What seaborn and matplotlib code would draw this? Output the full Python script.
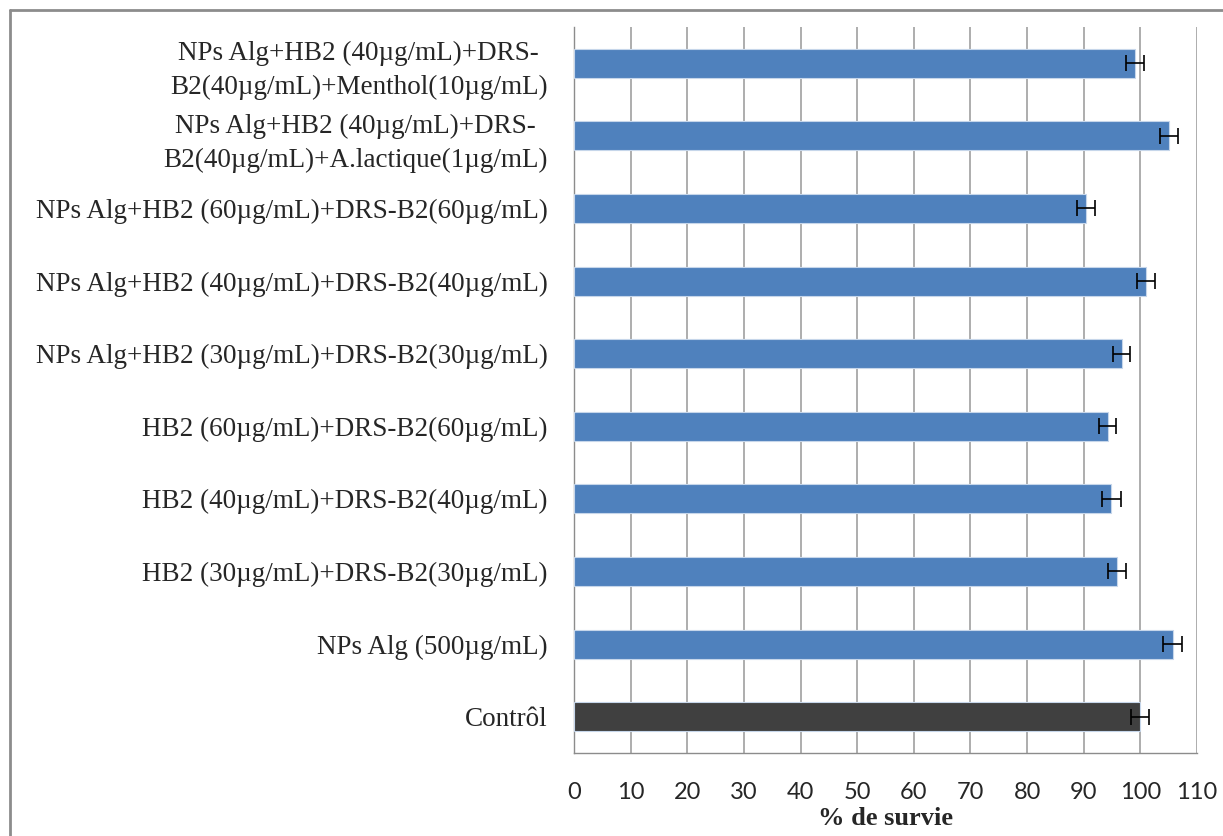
import numpy as np
import pandas as pd
import matplotlib
matplotlib.use("Agg")
import matplotlib.pyplot as plt
import seaborn as sns

# categories from top to bottom, as in the chart
categories = [
    "NPs Alg+HB2 (40µg/mL)+DRS-\nB2(40µg/mL)+Menthol(10µg/mL)",
    "NPs Alg+HB2 (40µg/mL)+DRS-\nB2(40µg/mL)+A.lactique(1µg/mL)",
    "NPs Alg+HB2 (60µg/mL)+DRS-B2(60µg/mL)",
    "NPs Alg+HB2 (40µg/mL)+DRS-B2(40µg/mL)",
    "NPs Alg+HB2 (30µg/mL)+DRS-B2(30µg/mL)",
    "HB2 (60µg/mL)+DRS-B2(60µg/mL)",
    "HB2 (40µg/mL)+DRS-B2(40µg/mL)",
    "HB2 (30µg/mL)+DRS-B2(30µg/mL)",
    "NPs Alg (500µg/mL)",
    "Contrôl",
]
survival = [99.0, 105.0, 90.4, 101.0, 96.7, 94.2, 94.9, 95.8, 105.7, 100.0]
errors = [1.6, 1.6, 1.6, 1.6, 1.5, 1.5, 1.6, 1.6, 1.7, 1.6]
x_ticks = [0, 10, 20, 30, 40, 50, 60, 70, 80, 90, 100, 110]

df = pd.DataFrame({"cond": categories, "survie": survival, "err": errors})
colors = {c: "#4F81BD" for c in categories}
colors["Contrôl"] = "#404040"

sns.set_style("white")

fig = plt.figure(figsize=(12.23, 8.36), dpi=100)
ax = fig.add_axes([574 / 1223, 1 - 753 / 836, (1197 - 574) / 1223, (753 - 27) / 836])

sns.barplot(data=df, y="cond", x="survie", hue="cond", palette=colors,
            orient="h", width=0.4, saturation=1, legend=False, ax=ax,
            edgecolor="#C6D6EA", linewidth=0.8, zorder=3)

ypos = ax.get_yticks()
ax.errorbar(df["survie"], ypos, xerr=df["err"], fmt="none", ecolor="black",
            elinewidth=1.2, capsize=5.5, capthick=1.2, zorder=4)

ax.set_xlim(0, 110)
ax.set_ylim(len(categories) - 0.5, -0.5)
ax.set_xticks(x_ticks)
ax.set_xticklabels([str(v) for v in x_ticks], fontfamily="Lato", fontsize=17)
ax.set_yticks(ypos)
ax.set_yticklabels(categories, fontfamily="Liberation Serif", fontsize=19.5,
                   multialignment="center", linespacing=1.45)
ax.set_yticks(np.arange(-0.5, len(categories)), minor=True)

ax.grid(axis="x", color="#A0A0A0", linewidth=1.2, zorder=0)
ax.set_axisbelow(True)
ax.tick_params(axis="y", which="major", length=0, pad=19)
ax.tick_params(axis="y", which="minor", length=6, color="#8C8C8C", width=1)
ax.tick_params(axis="x", length=6, color="#8C8C8C", width=1, pad=15)

for side in ["top", "right"]:
    ax.spines[side].set_visible(False)
for side in ["left", "bottom"]:
    ax.spines[side].set_color("#8C8C8C")
    ax.spines[side].set_linewidth(1)

ax.set_ylabel("")
ax.set_xlabel("% de survie", fontfamily="Liberation Serif", fontweight="bold",
              fontsize=19, labelpad=3)

# outer chart frame (top and left visible)
fig.add_artist(plt.Line2D([10 / 1223, 1], [1 - 10 / 836, 1 - 10 / 836],
                          color="#8C8C8C", linewidth=2, transform=fig.transFigure))
fig.add_artist(plt.Line2D([10 / 1223, 10 / 1223], [0, 1 - 10 / 836],
                          color="#8C8C8C", linewidth=2, transform=fig.transFigure))

fig.savefig("out.png", dpi=100)
